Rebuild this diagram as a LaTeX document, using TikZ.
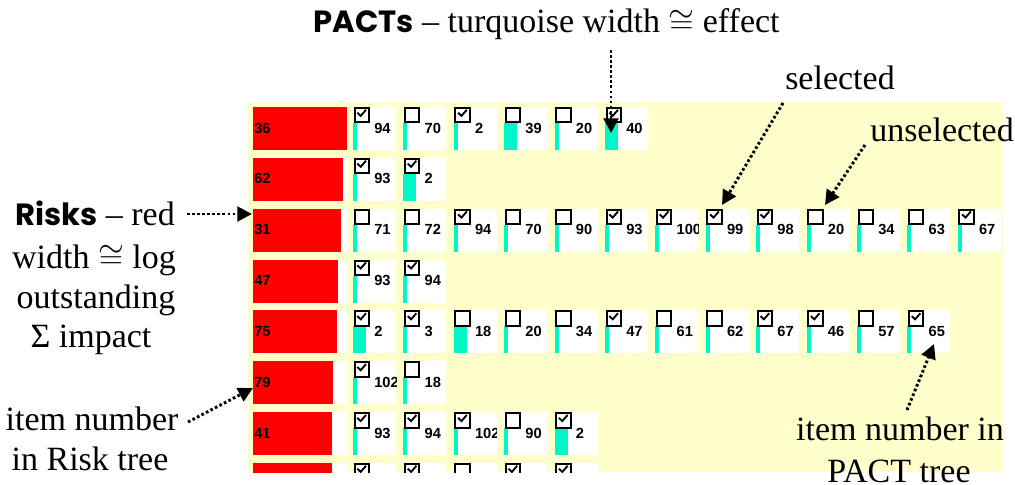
\documentclass[tikz,border=0pt]{standalone}
\usepackage{fontspec}
\setmainfont{Liberation Serif}
\newfontfamily\numfont{Liberation Sans}
\newfontfamily\comicfont{Poppins}
\usetikzlibrary{arrows.meta}
\definecolor{panel}{RGB}{255,255,204}
\definecolor{turq}{RGB}{0,245,200}
\definecolor{riskred}{RGB}{255,0,0}
\newcounter{cellno}
\tikzset{
  lbl/.style={inner sep=0pt, font=\fontsize{25.5pt}{30.5pt}\selectfont},
  boldsans/.style={},
  num/.style={inner sep=0pt, anchor=base west, font=\numfont\bfseries\fontsize{11pt}{13pt}\selectfont},
  cbox/.style={draw=black, fill=white, line width=1.5pt},
  tick/.style={line width=1.4pt},
  pointer/.style={line width=2.2pt, dash pattern=on 2pt off 1.8pt, -{Triangle[length=11pt,width=11pt]}},
}
\newcommand\bsans[1]{{\comicfont\bfseries\fontsize{23pt}{27pt}\selectfont #1}}
% PACT cell: y, column index, checked, number, bar width
\newcommand\pcell[5]{%
  \stepcounter{cellno}%
  \pgfmathsetmacro\cx{353+50.4*#2}%
  \fill[white] (\cx,#1) rectangle ++(43,43);
  \fill[turq] (\cx,#1+16) rectangle ++(#5,27);
  \begin{scope}
    \clip (\cx,#1) rectangle ++(43,43);
    \node[num] (n\thecellno) at (\cx+21,#1+26) {#4};
  \end{scope}
  \draw[cbox] (\cx+1.5,#1+1) rectangle (\cx+16,#1+15.5);
  \ifnum#3=1 \draw[tick] (\cx+4.3,#1+5.7) -- (\cx+7.7,#1+8.9) -- (\cx+13,#1+2.8);\fi
}
% Risk cell: y, red right edge, number
\newcommand\rcell[3]{%
  \stepcounter{cellno}%
  \fill[white] (253,#1) rectangle (347,#1+43);
  \fill[riskred] (253,#1) rectangle (#2,#1+43);
  \node[num] (r\thecellno) at (254,#1+26) {#3};
}
\begin{document}
\begin{tikzpicture}[x=0.75pt,y=-0.75pt]
\useasboundingbox (0,0) rectangle (1015,485);
\fill[white] (0,0) rectangle (1015,485);
\begin{scope}
  \clip (248,102) rectangle (1003,472);
  \fill[panel] (248,102) rectangle (1003,472);
  % row 1
  \rcell{107}{347}{36}
  \pcell{107}{0}{1}{94}{4}\pcell{107}{1}{0}{70}{4}\pcell{107}{2}{1}{2}{4}
  \pcell{107}{3}{0}{39}{13}\pcell{107}{4}{0}{20}{4}\pcell{107}{5}{1}{40}{13}
  % row 2
  \rcell{157.9}{343}{62}
  \pcell{157.9}{0}{1}{93}{4}\pcell{157.9}{1}{1}{2}{13}
  % row 3
  \rcell{208.7}{341}{31}
  \pcell{208.7}{0}{0}{71}{4}\pcell{208.7}{1}{0}{72}{4}\pcell{208.7}{2}{1}{94}{4}
  \pcell{208.7}{3}{0}{70}{4}\pcell{208.7}{4}{0}{90}{4}\pcell{208.7}{5}{1}{93}{4}
  \pcell{208.7}{6}{1}{100}{4}\pcell{208.7}{7}{1}{99}{4}\pcell{208.7}{8}{1}{98}{4}
  \pcell{208.7}{9}{0}{20}{4}\pcell{208.7}{10}{0}{34}{4}\pcell{208.7}{11}{0}{63}{4}
  \pcell{208.7}{12}{1}{67}{4}
  % row 4
  \rcell{259.6}{338}{47}
  \pcell{259.6}{0}{1}{93}{4}\pcell{259.6}{1}{1}{94}{4}
  % row 5
  \rcell{310.4}{337}{75}
  \pcell{310.4}{0}{1}{2}{13}\pcell{310.4}{1}{1}{3}{4}\pcell{310.4}{2}{0}{18}{13}
  \pcell{310.4}{3}{0}{20}{4}\pcell{310.4}{4}{0}{34}{4}\pcell{310.4}{5}{1}{47}{4}
  \pcell{310.4}{6}{0}{61}{4}\pcell{310.4}{7}{0}{62}{4}\pcell{310.4}{8}{1}{67}{4}
  \pcell{310.4}{9}{1}{46}{4}\pcell{310.4}{10}{0}{57}{4}\pcell{310.4}{11}{1}{65}{4}
  % row 6
  \rcell{361.3}{333}{79}
  \pcell{361.3}{0}{1}{102}{4}\pcell{361.3}{1}{0}{18}{4}
  % row 7
  \rcell{412.2}{332}{41}
  \pcell{412.2}{0}{1}{93}{4}\pcell{412.2}{1}{1}{94}{4}\pcell{412.2}{2}{1}{102}{4}
  \pcell{412.2}{3}{0}{90}{4}\pcell{412.2}{4}{1}{2}{13}
  % row 8 (cut off)
  \rcell{463}{332}{}
  \pcell{463}{0}{1}{}{4}\pcell{463}{1}{1}{}{4}\pcell{463}{2}{0}{}{4}
  \pcell{463}{3}{1}{}{4}\pcell{463}{4}{1}{}{4}
\end{scope}

% labels
\node[lbl, anchor=base west] (title) at (313,33) {\bsans{PACTs} – turquoise width $\cong$ effect};
\node[lbl, anchor=base west] (sel) at (785,90) {selected};
\node[lbl, anchor=base west] (unsel) at (870,142) {unselected};
\node[lbl, anchor=base] (risks) at (95,225) {\bsans{Risks} – red};
\node[lbl, anchor=base] (l2) at (94,268) {width $\cong$ log};
\node[lbl, anchor=base] (l3) at (96,308) {outstanding};
\node[lbl, anchor=base] (l4) at (91,347) {Σ impact};
\node[lbl, anchor=base] (inum) at (92,430) {item number};
\node[lbl, anchor=base] (irisk) at (90,470) {in Risk tree};
\node[lbl, anchor=base] (pnum) at (900,440) {item number in};
\node[lbl, anchor=base] (ptree) at (899,482) {PACT tree};

% pointer ends
\coordinate (pactsFrom) at (611,50);   \coordinate (pactsTo) at (611,133);
\coordinate (selFrom) at (783,103);    \coordinate (selTo) at (722,205);
\coordinate (unselFrom) at (865,145);  \coordinate (unselTo) at (825,205);
\coordinate (risksFrom) at (187,214);  \coordinate (risksTo) at (252,214);
\coordinate (inumFrom) at (188,422);   \coordinate (inumTo) at (253,388);
\coordinate (pnumFrom) at (907,410);   \coordinate (pnumTo) at (934,344);

\draw[pointer] (pactsFrom) -- (pactsTo);
\draw[pointer] (selFrom) -- (selTo);
\draw[pointer] (unselFrom) -- (unselTo);
\draw[pointer] (risksFrom) -- (risksTo);
\draw[pointer] (inumFrom) -- (inumTo);
\draw[pointer] (pnumFrom) -- (pnumTo);
\end{tikzpicture}
\end{document}
